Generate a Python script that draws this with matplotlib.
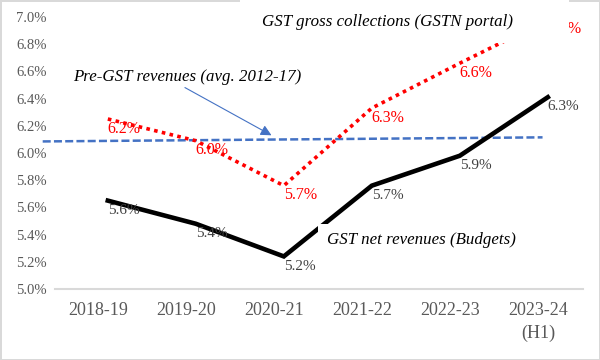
import numpy as np
import matplotlib.pyplot as plt
from matplotlib.patches import Rectangle

plt.rcParams['font.family'] = ['Liberation Serif', 'DejaVu Serif']

# data (% of GDP)
years = ["2018-19", "2019-20", "2020-21", "2021-22", "2022-23", "2023-24\n(H1)"]
gst_net = [5.65, 5.48, 5.24, 5.76, 5.98, 6.41]
gst_net_labels = ["5.6%", "5.4%", "5.2%", "5.7%", "5.9%", "6.3%"]
gst_gross = [6.25, 6.09, 5.76, 6.33, 6.66, 6.98]
gst_gross_labels = ["6.2%", "6.0%", "5.7%", "6.3%", "6.6%", "7.0%"]
pre_gst_x = [-0.74, 4.94]
pre_gst = [6.085, 6.115]

x = np.arange(len(years))

fig = plt.figure(figsize=(6, 3.6), dpi=100, linewidth=1, edgecolor='#d9d9d9')
ax = fig.add_axes([0.0917, 0.197, 0.88, 0.756])

ax.plot(pre_gst_x, pre_gst, color='#4472C4', lw=1.8, linestyle=(0, (3.2, 1.3)),
        clip_on=False, zorder=2)
ax.plot(x, gst_net, color='black', lw=3.3, solid_joinstyle='miter', zorder=2)
ax.plot(x, gst_gross, color='#ff0000', lw=2.6, linestyle=(0, (1, 1.2)), zorder=2)

for xi, v, lab in zip(x, gst_net, gst_net_labels):
    ax.annotate(lab, (xi, v), xytext=(0, -7), textcoords='offset points',
                ha='left', va='center', fontsize=11, color='#404040', zorder=5)
for xi, v, lab in zip(x, gst_gross, gst_gross_labels):
    ax.annotate(lab, (xi, v), xytext=(0, -7), textcoords='offset points',
                ha='left', va='center', fontsize=11.5, color='#ff0000', zorder=2.5)

# white boxes behind the series titles
ax.add_patch(Rectangle((1.5, 6.81), 3.74, 0.5, facecolor='white', edgecolor='none',
                       clip_on=False, zorder=3))
ax.text(1.75, 6.96, "GST gross collections (GSTN portal)", fontsize=12.2,
        style='italic', va='center', ha='left', zorder=4)
ax.text(2.49, 5.36, "GST net revenues (Budgets)", fontsize=12.2, style='italic',
        va='center', ha='left', zorder=4,
        bbox=dict(boxstyle='square,pad=0.5', facecolor='white', edgecolor='none'))
ax.annotate("Pre-GST revenues (avg. 2012-17)", xy=(1.86, 6.13), xytext=(-0.40, 6.56),
            fontsize=12.2, style='italic', va='center', ha='left', zorder=4,
            arrowprops=dict(arrowstyle='-|>', color='#4472C4', lw=0.8,
                            mutation_scale=16, shrinkA=0, shrinkB=0,
                            relpos=(0.47, 0.0)))

ax.set_xlim(-0.6, 5.4)
ax.set_ylim(5.0, 7.0)
ax.set_xticks(x - 0.11)
ax.set_xticklabels(years, fontsize=13, color='#595959', linespacing=1.45)
yt = np.arange(5.0, 7.01, 0.2)
ax.set_yticks(yt)
ax.set_yticklabels([f"{v:.1f}%" for v in yt], fontsize=10.5, color='#595959')
ax.tick_params(axis='both', length=0)
ax.tick_params(axis='x', pad=9)
ax.tick_params(axis='y', pad=6)
for s in ['top', 'right', 'left']:
    ax.spines[s].set_visible(False)
ax.spines['bottom'].set_color('#d9d9d9')
ax.spines['bottom'].set_linewidth(1.5)

fig.savefig('out.png', dpi=100, edgecolor=fig.get_edgecolor())
